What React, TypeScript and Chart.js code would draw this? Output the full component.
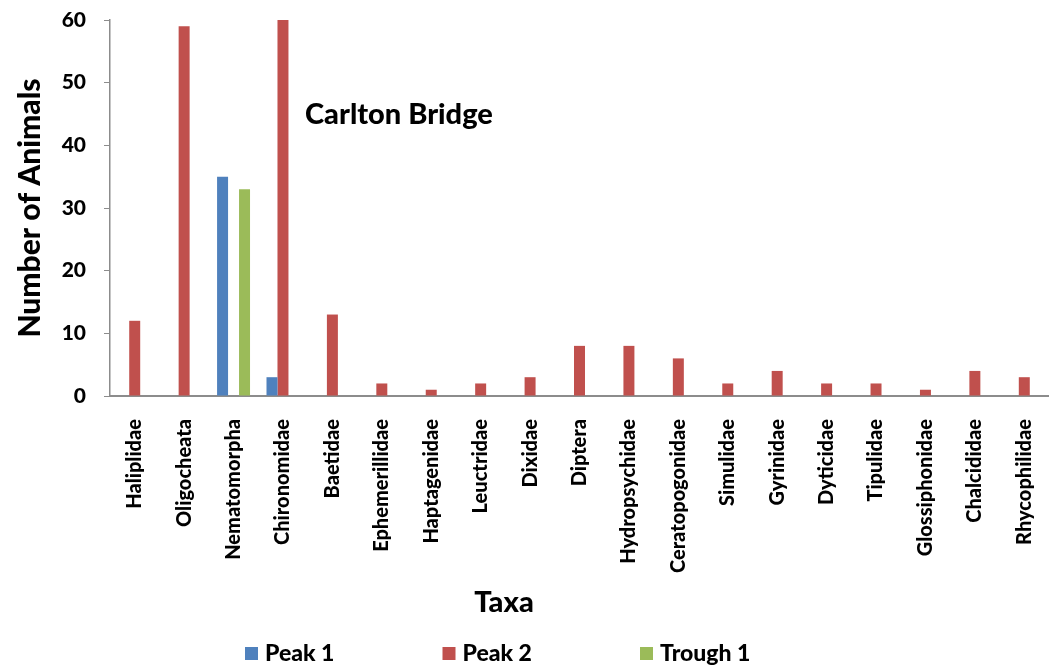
import React, { useEffect, useRef } from "react";
import { Chart, registerables } from "chart.js";

Chart.register(...registerables);

const categories = [
  "Haliplidae", "Oligocheata", "Nematomorpha", "Chironomidae", "Baetidae",
  "Ephemerillidae", "Haptagenidae", "Leuctridae", "Dixidae", "Diptera",
  "Hydropsychidae", "Ceratopogonidae", "Simulidae", "Gyrinidae", "Dyticidae",
  "Tipulidae", "Glossiphonidae", "Chalcididae", "Rhycophilidae",
];
const peak1 = [null, null, 35, 3, null, null, null, null, null, null, null, null, null, null, null, null, null, null, null];
const peak2 = [12, 59, null, 60, 13, 2, 1, 2, 3, 8, 8, 6, 2, 4, 2, 2, 1, 4, 3];
const trough1 = [null, null, 33, null, null, null, null, null, null, null, null, null, null, null, null, null, null, null, null];
const seriesNames = ["Peak 1", "Peak 2", "Trough 1"];
const seriesColors = ["#4F81BD", "#C0504D", "#9BBB59"];
const yTicks = { min: 0, max: 60, step: 10 };
const chartTitle = "Carlton Bridge";
const xTitle = "Taxa";
const yTitle = "Number of Animals";

const FONT = "Lato";
const W = 900;

const extrasPlugin = {
  id: "extras",
  afterDraw(chart: any) {
    const ctx = chart.ctx;
    ctx.save();
    ctx.fillStyle = "#000";
    ctx.font = `${W} 29px ${FONT}`;
    ctx.textAlign = "left";
    ctx.textBaseline = "middle";
    ctx.fillText(chartTitle, 305, 115);
    // x-axis title (offset from plot centre, as in the original)
    ctx.font = `${W} 29px ${FONT}`;
    ctx.textAlign = "center";
    ctx.textBaseline = "alphabetic";
    ctx.fillText(xTitle, 504, 612);
    // legend
    ctx.font = `${W} 23px ${FONT}`;
    const startX = 245;
    const step = 197.5;
    const y = 654;
    chart.data.datasets.forEach((ds: any, i: number) => {
      const x = startX + i * step;
      ctx.fillStyle = ds.backgroundColor;
      ctx.fillRect(x, y - 7, 13, 13);
      ctx.fillStyle = "#000";
      ctx.textAlign = "left";
      ctx.textBaseline = "middle";
      ctx.fillText(ds.label, x + 20, y);
    });
    ctx.restore();
  },
};

export default function App() {
  const ref = useRef<HTMLCanvasElement | null>(null);
  useEffect(() => {
    if (!ref.current) return;
    const chart = new Chart(ref.current, {
      type: "bar",
      data: {
        labels: categories,
        datasets: [peak1, peak2, trough1].map((d, i) => ({
          label: seriesNames[i],
          data: d,
          backgroundColor: seriesColors[i],
          borderWidth: 0,
          categoryPercentage: 0.667,
          barPercentage: 1,
        })),
      },
      options: {
        animation: false,
        responsive: false,
        maintainAspectRatio: false,
        layout: { padding: { top: 20, right: 0, bottom: 50, left: 0 } },
        plugins: {
          legend: { display: false },
          tooltip: { enabled: false },
          title: { display: false },
        },
        scales: {
          x: {
            offset: true,
            grid: { display: false, drawTicks: false },
            border: { display: true, color: "#8c8c8c", width: 2 },
            ticks: {
              autoSkip: false,
              maxRotation: 90,
              minRotation: 90,
              padding: 23,
              color: "#000",
              font: { family: FONT, size: 20, weight: W },
            },
            title: { display: false },
            afterFit: (scale: any) => {
              scale.height = 225;
              scale.paddingLeft = 0;
              scale.paddingRight = 0;
            },
          },
          y: {
            min: yTicks.min,
            max: yTicks.max,
            grid: { drawOnChartArea: false, drawTicks: true, tickLength: 6, color: "#8c8c8c" },
            border: { display: true, color: "#8c8c8c", width: 1.5 },
            ticks: {
              stepSize: yTicks.step,
              padding: 18,
              color: "#000",
              font: { family: FONT, size: 21, weight: W },
            },
            title: {
              display: true,
              text: yTitle,
              color: "#000",
              font: { family: FONT, size: 30, weight: W },
              padding: { top: 12, bottom: 0 },
            },
            afterFit: (scale: any) => {
              scale.width = 110;
              scale.paddingTop = 0;
              scale.paddingBottom = 0;
            },
          },
        },
      },
      plugins: [extrasPlugin],
    });
    return () => chart.destroy();
  }, []);
  return (
    <div style={{ position: "absolute", left: 0, top: 0, width: 1049, height: 671 }}>
      <canvas ref={ref} width={1049} height={671} style={{ display: "block" }} />
    </div>
  );
}
